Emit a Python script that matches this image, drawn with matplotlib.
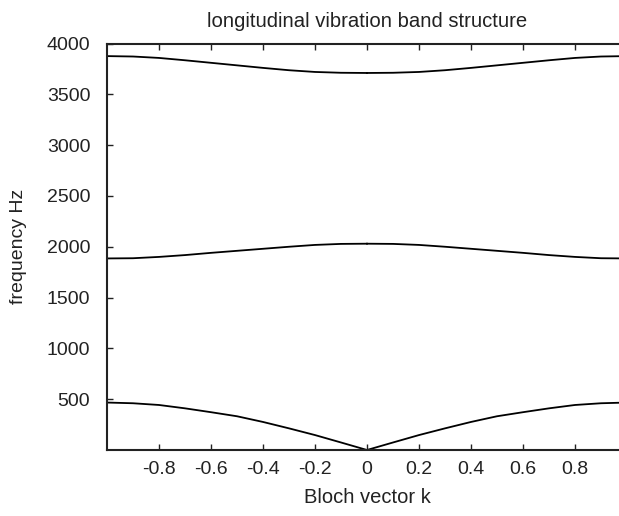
import matplotlib
matplotlib.use("Agg")
import matplotlib.pyplot as plt
import numpy as np

plt.rcParams['font.family'] = ['Liberation Sans', 'DejaVu Sans']

# Bloch vector (positive half; band structure is symmetric in k)
k_half = [0.0, 0.1, 0.2, 0.3, 0.4, 0.5, 0.6, 0.7, 0.8, 0.9, 1.0]
band1_half = [0, 74, 147, 213, 276, 332, 372, 410, 443, 460, 467]
band2_half = [2030, 2028, 2018, 2000, 1980, 1960, 1940, 1918, 1900, 1887, 1885]
band3_half = [3710, 3712, 3720, 3737, 3760, 3785, 3810, 3835, 3858, 3872, 3876]

xtick_vals = [-0.8, -0.6, -0.4, -0.2, 0, 0.2, 0.4, 0.6, 0.8]
xtick_labels = ['-0.8', '-0.6', '-0.4', '-0.2', '0', '0.2', '0.4', '0.6', '0.8']
ytick_vals = [500, 1000, 1500, 2000, 2500, 3000, 3500, 4000]

fig = plt.figure(figsize=(6.19, 5.16), dpi=100)
ax = fig.add_axes([107/619, (516-450)/516, 520/619, (450-43.5)/516])

kp = np.array(k_half)
kn = -kp
for band in (band1_half, band2_half, band3_half):
    b = np.array(band)
    ax.plot(kn, b, color='black', lw=1.3)
    ax.plot(kp, b, color='black', lw=1.3)

ax.set_xlim(-1, 1)
ax.set_ylim(0, 4000)
ax.set_xticks(xtick_vals)
ax.set_xticklabels(xtick_labels)
ax.set_yticks(ytick_vals)
ax.tick_params(direction='in', length=4, width=1, labelsize=14, top=True,
               right=False, colors='#222222', labelcolor='#222222', pad=8)
ax.tick_params(axis='y', pad=12)
for s in ax.spines.values():
    s.set_linewidth(1.5)
    s.set_color('#222222')

ax.set_xlabel('Bloch vector k', fontsize=14.5, color='#222222', labelpad=7)
ax.set_ylabel('frequency Hz', fontsize=14, color='#222222', labelpad=14)
ax.set_title('longitudinal vibration band structure', fontsize=14.6, color='#222222', pad=12)

fig.savefig('out.png', dpi=100)
